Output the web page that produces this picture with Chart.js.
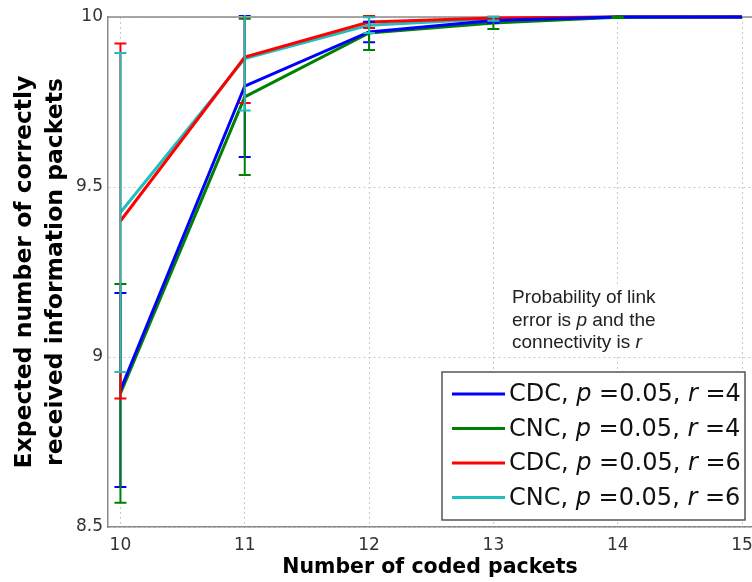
<!DOCTYPE html>
<html>
<head>
<meta charset="utf-8">
<script src="https://cdn.jsdelivr.net/npm/chart.js@4.4.1/dist/chart.umd.min.js"></script>
<style>
  html, body { margin: 0; padding: 0; background: #fff; }
  #wrap { width: 752px; height: 582px; }
</style>
</head>
<body>
<div id="wrap"><canvas id="chart" width="752" height="582"></canvas></div>
<script>
// data
const codedPackets = [10, 11, 12, 13, 14, 15];
const cdcR4 = [8.903, 9.797, 9.956, 9.990, 10.0, 10.0];
const cncR4 = [8.893, 9.765, 9.953, 9.982, 9.999, 10.0];
const cdcR6 = [9.400, 9.882, 9.985, 9.997, 10.0, 10.0];
const cncR6 = [9.425, 9.878, 9.976, 9.995, 10.0, 10.0];
// half length of the error bars
const cdcR4Err = [0.285, 0.209, 0.030, 0.008, 0, 0];
const cncR4Err = [0.322, 0.230, 0.050, 0.017, 0.002, 0];
const cdcR6Err = [0.522, 0.135, 0.017, 0.004, 0, 0];
const cncR6Err = [0.469, 0.153, 0.023, 0.006, 0, 0];

const xTicks = [10, 11, 12, 13, 14, 15];
const yTicks = [8.5, 9, 9.5, 10];
const yTickLabels = ["8.5", "9", "9.5", "10"];
const seriesNames = ["CDC", "CNC", "CDC", "CNC"];
const seriesP = ["0.05", "0.05", "0.05", "0.05"];
const seriesR = ["4", "4", "6", "6"];
const seriesColors = ["#0000ff", "#008000", "#ff0000", "#1fbfbf"];
const noteLines = [
  [["Probability of link", false]],
  [["error is ", false], ["p", true], [" and the", false]],
  [["connectivity is ", false], ["r", true]]
];

const allValues = [cdcR4, cncR4, cdcR6, cncR6];
const allErrors = [cdcR4Err, cncR4Err, cdcR6Err, cncR6Err];

const datasets = allValues.map((vals, i) => ({
  label: seriesNames[i] + ", p =" + seriesP[i] + ", r =" + seriesR[i],
  data: codedPackets.map((x, j) => ({ x: x, y: vals[j] })),
  errors: allErrors[i],
  borderColor: seriesColors[i],
  backgroundColor: seriesColors[i],
  borderWidth: 3,
  pointRadius: 0,
  tension: 0,
  clip: 3
}));

// top border of the box
const frame = {
  id: "frame",
  beforeDatasetsDraw(chart) {
    const { ctx, chartArea } = chart;
    ctx.save();
    ctx.strokeStyle = "#8a8a8a";
    ctx.lineWidth = 1.5;
    ctx.beginPath();
    ctx.moveTo(chartArea.left, chartArea.top);
    ctx.lineTo(chartArea.right, chartArea.top);
    ctx.stroke();
    ctx.restore();
  }
};

// vertical error bars with caps
const errorBars = {
  id: "errorBars",
  afterDatasetsDraw(chart) {
    const { ctx, chartArea, scales: { x, y } } = chart;
    ctx.save();
    ctx.beginPath();
    ctx.rect(chartArea.left, chartArea.top - 2, chartArea.width, chartArea.height + 4);
    ctx.clip();
    chart.data.datasets.forEach(ds => {
      ctx.strokeStyle = ds.borderColor;
      ctx.lineWidth = 2;
      ds.data.forEach((p, i) => {
        const e = ds.errors[i];
        if (!e) return;
        const px = x.getPixelForValue(p.x);
        const top = y.getPixelForValue(p.y + e);
        const bot = y.getPixelForValue(p.y - e);
        ctx.beginPath();
        ctx.moveTo(px, top); ctx.lineTo(px, bot);
        ctx.moveTo(px - 6, top); ctx.lineTo(px + 6, top);
        ctx.moveTo(px - 6, bot); ctx.lineTo(px + 6, bot);
        ctx.stroke();
      });
    });
    ctx.restore();
  }
};

function drawRich(ctx, parts, x, y, size, family) {
  let cx = x;
  parts.forEach(([txt, it]) => {
    ctx.font = (it ? "italic " : "") + size + "px " + family;
    ctx.fillText(txt, cx, y);
    cx += ctx.measureText(txt).width;
  });
}

// legend box and the note, drawn by hand for the italic p and r
const legendBox = {
  id: "legendBox",
  afterDraw(chart) {
    const { ctx } = chart;
    ctx.save();
    // note
    ctx.fillStyle = "#fff";
    ctx.fillRect(508, 284, 165, 70);
    ctx.fillStyle = "#222";
    ctx.textBaseline = "middle";
    noteLines.forEach((line, i) => drawRich(ctx, line, 512, 298 + i * 22.5, 19, "'Liberation Sans', Arial, sans-serif"));
    // legend
    ctx.fillStyle = "#fff";
    ctx.fillRect(442, 372, 303, 148);
    ctx.strokeStyle = "#555";
    ctx.lineWidth = 1.5;
    ctx.strokeRect(442, 372, 303, 148);
    chart.data.datasets.forEach((ds, i) => {
      const yy = 394 + i * 34.5;
      ctx.strokeStyle = ds.borderColor;
      ctx.lineWidth = 3;
      ctx.beginPath();
      ctx.moveTo(452, yy); ctx.lineTo(505, yy);
      ctx.stroke();
      ctx.fillStyle = "#111";
      drawRich(ctx, [
        [seriesNames[i] + ", ", false], ["p", true], [" =" + seriesP[i] + ", ", false],
        ["r", true], [" =" + seriesR[i], false]
      ], 509, yy + 1, 24, "'DejaVu Sans', Verdana, sans-serif");
    });
    ctx.restore();
  }
};

new Chart(document.getElementById("chart").getContext("2d"), {
  type: "line",
  data: { datasets: datasets },
  options: {
    responsive: false,
    animation: false,
    layout: { padding: { top: 17, right: 0, left: 0, bottom: 0 } },
    plugins: {
      legend: { display: false },
      tooltip: { enabled: false }
    },
    scales: {
      x: {
        type: "linear",
        min: 9.9,
        max: 15.08,
        afterBuildTicks: s => { s.ticks = xTicks.map(v => ({ value: v })); },
        afterFit: s => { s.height = 55; s.paddingLeft = 0; s.paddingRight = 0; },
        grid: { color: "#c8c8c8", drawTicks: false },
        border: { color: "#8a8a8a", width: 1.5, dash: [2, 3] },
        ticks: { color: "#333", padding: 8, font: { family: "'DejaVu Sans', Verdana, sans-serif", size: 17 } },
        title: {
          display: true,
          text: "Number of coded packets",
          color: "#000",
          padding: { top: 0, bottom: 2 },
          font: { family: "'DejaVu Sans', Verdana, sans-serif", size: 20.5, weight: "bold" }
        }
      },
      y: {
        min: 8.5,
        max: 10,
        afterBuildTicks: s => { s.ticks = yTicks.map(v => ({ value: v })); },
        afterFit: s => { s.width = 108; },
        grid: { color: "#c8c8c8", drawTicks: false },
        border: { color: "#8a8a8a", width: 1.5, dash: [2, 3] },
        ticks: {
          color: "#333",
          padding: 5,
          font: { family: "'DejaVu Sans', Verdana, sans-serif", size: 17 },
          callback: (v, i) => yTickLabels[i]
        },
        title: {
          display: true,
          text: ["Expected number of correctly", "received information packets"],
          color: "#000",
          padding: { top: 9, bottom: 0 },
          font: { family: "'DejaVu Sans', Verdana, sans-serif", size: 23.5, weight: "bold", lineHeight: 1.33 }
        }
      }
    }
  },
  plugins: [frame, errorBars, legendBox]
});
</script>
</body>
</html>
